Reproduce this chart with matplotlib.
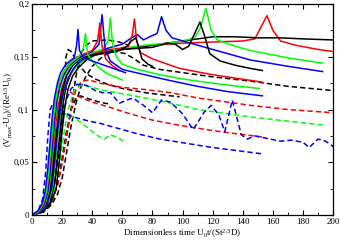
import matplotlib
matplotlib.use("Agg")
import matplotlib.pyplot as plt
from matplotlib.ticker import MultipleLocator, FuncFormatter

plt.rcParams['font.family'] = ['Liberation Serif', 'DejaVu Serif']
plt.rcParams['mathtext.fontset'] = 'custom'
plt.rcParams['mathtext.rm'] = 'Liberation Serif'
plt.rcParams['mathtext.it'] = 'Liberation Serif'

# solid curves (colour, x, y)
s_blue1_x = [0, 4, 7, 9, 10.5, 12, 13.5, 15, 17, 19, 22, 25, 28, 29.5, 30.5, 31.5, 34, 38, 44, 50, 56, 62]
s_blue1_y = [0, 0.004, 0.012, 0.025, 0.045, 0.07, 0.095, 0.112, 0.126, 0.135, 0.142, 0.146, 0.149, 0.16, 0.176, 0.156, 0.15, 0.147, 0.144, 0.141, 0.138, 0.135]
s_green1_x = [0, 4, 7, 9.5, 11, 12.5, 14, 15.5, 17.5, 20, 23, 27, 31, 34, 35.5, 37, 40, 45, 50, 55, 60]
s_green1_y = [0, 0.003, 0.01, 0.022, 0.04, 0.065, 0.09, 0.108, 0.123, 0.133, 0.14, 0.146, 0.15, 0.158, 0.172, 0.152, 0.146, 0.139, 0.134, 0.131, 0.128]
s_red1_x = [0, 5, 8, 10, 11.5, 13, 14.5, 16, 18, 21, 25, 30, 35, 40, 43.5, 45, 46.5, 49, 53, 58]
s_red1_y = [0, 0.004, 0.012, 0.025, 0.045, 0.07, 0.094, 0.112, 0.126, 0.136, 0.144, 0.15, 0.153, 0.156, 0.165, 0.182, 0.16, 0.148, 0.142, 0.137]
s_blue2_x = [0, 5, 8, 10.5, 12, 13.5, 15, 16.5, 18.5, 21, 25, 30, 35, 40, 44.5, 46.5, 48.5, 52, 60, 75, 90, 110, 130, 153]
s_blue2_y = [0, 0.003, 0.01, 0.022, 0.04, 0.065, 0.09, 0.108, 0.122, 0.133, 0.142, 0.148, 0.152, 0.155, 0.162, 0.19, 0.158, 0.146, 0.138, 0.133, 0.128, 0.122, 0.117, 0.113]
s_green2_x = [0, 5, 8.5, 11, 12.5, 14, 15.5, 17, 19, 22, 26, 31, 36, 42, 47, 50.5, 52, 53.5, 56, 60, 70, 85, 100, 125, 151]
s_green2_y = [0, 0.003, 0.01, 0.022, 0.042, 0.068, 0.092, 0.11, 0.124, 0.134, 0.142, 0.148, 0.152, 0.155, 0.157, 0.165, 0.187, 0.162, 0.15, 0.143, 0.138, 0.133, 0.129, 0.124, 0.12]
s_red2_x = [0, 5, 9, 11.5, 13, 14.5, 16, 18, 20, 23, 27, 32, 38, 45, 52, 58, 64, 66.5, 68, 69.5, 72, 80, 98, 120, 153]
s_red2_y = [0, 0.003, 0.01, 0.022, 0.04, 0.065, 0.09, 0.108, 0.122, 0.133, 0.142, 0.148, 0.152, 0.155, 0.157, 0.158, 0.16, 0.17, 0.186, 0.165, 0.154, 0.148, 0.139, 0.133, 0.126]
s_black1_x = [0, 5, 9, 12, 14, 16, 18, 20, 23, 27, 32, 38, 45, 52, 58, 63, 66, 69, 71, 73, 77, 80]
s_black1_y = [0, 0.003, 0.01, 0.022, 0.045, 0.075, 0.1, 0.118, 0.132, 0.142, 0.148, 0.151, 0.153, 0.154, 0.156, 0.16, 0.165, 0.168, 0.158, 0.148, 0.143, 0.141]
s_blue3_x = [0, 6, 10, 13, 15, 17, 19, 21, 24, 28, 33, 40, 50, 60, 66, 70, 74, 78, 83, 86, 89, 93, 110, 130, 145, 170, 193]
s_blue3_y = [0, 0.003, 0.01, 0.025, 0.05, 0.08, 0.102, 0.118, 0.13, 0.14, 0.147, 0.152, 0.158, 0.162, 0.168, 0.171, 0.166, 0.169, 0.172, 0.188, 0.175, 0.168, 0.161, 0.153, 0.147, 0.141, 0.136]
s_green3_x = [0, 6, 10, 13, 15, 17, 19, 21, 24, 28, 33, 40, 50, 60, 75, 90, 100, 108, 112, 115.5, 119, 123, 135, 145, 170, 193]
s_green3_y = [0, 0.003, 0.01, 0.022, 0.045, 0.075, 0.1, 0.117, 0.13, 0.139, 0.146, 0.151, 0.155, 0.158, 0.161, 0.163, 0.165, 0.168, 0.178, 0.196, 0.175, 0.166, 0.16, 0.156, 0.149, 0.144]
s_black2_x = [0, 7, 12, 16, 18, 20, 22, 24, 27, 31, 36, 42, 50, 60, 70, 80, 90, 95, 100, 104, 108, 111.5, 115, 118, 125, 135, 145, 153]
s_black2_y = [0, 0.003, 0.01, 0.025, 0.05, 0.08, 0.105, 0.12, 0.132, 0.14, 0.147, 0.152, 0.155, 0.157, 0.158, 0.159, 0.163, 0.162, 0.157, 0.16, 0.172, 0.183, 0.168, 0.153, 0.146, 0.142, 0.139, 0.137]
s_red3_x = [0, 6, 10, 13, 15, 17, 19, 21, 24, 28, 33, 40, 50, 60, 80, 100, 120, 140, 148, 152, 156, 160, 165, 175, 190, 200]
s_red3_y = [0, 0.003, 0.01, 0.022, 0.045, 0.075, 0.1, 0.116, 0.129, 0.139, 0.146, 0.151, 0.155, 0.158, 0.161, 0.163, 0.164, 0.165, 0.167, 0.178, 0.189, 0.175, 0.165, 0.161, 0.157, 0.155]
s_black3_x = [0, 7, 12, 15, 17, 19, 21, 23, 26, 30, 35, 40, 50, 60, 75, 90, 105, 120, 135, 150, 165, 180, 200]
s_black3_y = [0, 0.003, 0.012, 0.03, 0.055, 0.085, 0.11, 0.124, 0.135, 0.143, 0.148, 0.151, 0.154, 0.157, 0.16, 0.163, 0.166, 0.169, 0.169, 0.168, 0.168, 0.167, 0.166]

# dashed curves
d_black1_x = [0, 8, 13, 17, 20, 23, 25, 27, 29, 31, 33, 36, 40, 50, 58, 64]
d_black1_y = [0, 0.004, 0.012, 0.03, 0.05, 0.075, 0.092, 0.11, 0.13, 0.145, 0.155, 0.161, 0.165, 0.166, 0.164, 0.161]
d_black2_x = [0, 8, 12, 15, 18, 20, 21.5, 22.5, 24, 26, 28, 30, 33, 36, 42, 50, 60, 75, 98]
d_black2_y = [0, 0.004, 0.012, 0.03, 0.06, 0.09, 0.12, 0.15, 0.157, 0.155, 0.15, 0.145, 0.139, 0.134, 0.129, 0.124, 0.12, 0.116, 0.112]
d_black3_x = [0, 8, 13, 17, 20, 23, 26, 29, 32, 38, 45, 52]
d_black3_y = [0, 0.004, 0.012, 0.03, 0.055, 0.08, 0.1, 0.11, 0.113, 0.11, 0.107, 0.105]
d_black4_x = [0, 8, 13, 17, 20, 23, 26, 29, 32, 36, 40, 45, 50, 55, 62, 68, 74, 85, 100, 120, 145, 170, 200]
d_black4_y = [0, 0.003, 0.01, 0.02, 0.035, 0.06, 0.085, 0.105, 0.12, 0.132, 0.141, 0.148, 0.153, 0.155, 0.153, 0.148, 0.142, 0.138, 0.135, 0.131, 0.127, 0.122, 0.118]
d_red1_x = [0, 5, 8, 10, 12, 14, 16, 18, 21, 24, 27, 33, 40, 52, 65, 80, 98, 125, 153]
d_red1_y = [0, 0.003, 0.01, 0.025, 0.05, 0.08, 0.108, 0.124, 0.122, 0.118, 0.115, 0.111, 0.107, 0.102, 0.096, 0.09, 0.085, 0.079, 0.074]
d_red2_x = [0, 8, 13, 17, 20, 23, 26, 29, 33, 38, 45, 60, 75, 92, 110, 130, 145, 170, 200]
d_red2_y = [0, 0.004, 0.012, 0.028, 0.05, 0.078, 0.1, 0.118, 0.127, 0.128, 0.125, 0.121, 0.119, 0.116, 0.111, 0.107, 0.104, 0.1, 0.097]
d_green1_x = [0, 8, 12, 16, 19, 22, 25, 28, 32, 38, 45, 52, 60, 75, 92, 110, 130, 145, 170, 195]
d_green1_y = [0, 0.004, 0.012, 0.03, 0.055, 0.085, 0.105, 0.118, 0.123, 0.122, 0.119, 0.117, 0.115, 0.111, 0.106, 0.1, 0.096, 0.093, 0.089, 0.085]
d_green2_x = [0, 6, 10, 13, 15, 17, 19, 22, 26, 30, 35, 40, 45, 48, 52, 56, 62]
d_green2_y = [0, 0.003, 0.012, 0.03, 0.055, 0.08, 0.093, 0.096, 0.094, 0.09, 0.085, 0.079, 0.074, 0.072, 0.076, 0.074, 0.069]
d_blue1_x = [0, 6, 10, 14, 17, 20, 23, 26, 30, 36, 42, 47, 52, 58, 63, 67, 74, 80, 86, 92, 100, 107, 111, 114, 119, 124, 128, 133, 139, 143, 148, 155, 165, 172, 180, 184, 190, 195, 200]
d_blue1_y = [0, 0.004, 0.012, 0.03, 0.06, 0.09, 0.11, 0.12, 0.124, 0.123, 0.118, 0.116, 0.116, 0.106, 0.109, 0.111, 0.104, 0.097, 0.109, 0.107, 0.096, 0.081, 0.09, 0.097, 0.104, 0.095, 0.079, 0.109, 0.076, 0.072, 0.075, 0.073, 0.07, 0.071, 0.069, 0.064, 0.072, 0.07, 0.065]
d_blue2_x = [0, 4, 7, 9, 10.5, 12, 14, 17, 21, 25, 30, 38, 45, 55, 70, 85, 98, 120, 153]
d_blue2_y = [0, 0.004, 0.015, 0.04, 0.075, 0.1, 0.106, 0.103, 0.098, 0.094, 0.092, 0.089, 0.087, 0.083, 0.077, 0.072, 0.069, 0.064, 0.058]

solid = [
    ('red', s_red3_x, s_red3_y),
    ('black', s_black3_x, s_black3_y),
    ('lime', s_green3_x, s_green3_y),
    ('blue', s_blue3_x, s_blue3_y),
    ('black', s_black2_x, s_black2_y),
    ('red', s_red2_x, s_red2_y),
    ('black', s_black1_x, s_black1_y),
    ('lime', s_green2_x, s_green2_y),
    ('blue', s_blue2_x, s_blue2_y),
    ('red', s_red1_x, s_red1_y),
    ('lime', s_green1_x, s_green1_y),
    ('blue', s_blue1_x, s_blue1_y),
]
dashed = [
    ('black', d_black1_x, d_black1_y),
    ('black', d_black2_x, d_black2_y),
    ('black', d_black3_x, d_black3_y),
    ('black', d_black4_x, d_black4_y),
    ('red', d_red1_x, d_red1_y),
    ('red', d_red2_x, d_red2_y),
    ('lime', d_green1_x, d_green1_y),
    ('lime', d_green2_x, d_green2_y),
    ('blue', d_blue1_x, d_blue1_y),
    ('blue', d_blue2_x, d_blue2_y),
]

fig = plt.figure(figsize=(3.41, 2.40), dpi=100)
ax = fig.add_axes([0.094, 0.104, 0.883, 0.879])

for c, x, y in dashed:
    ax.plot(x, y, color=c, lw=1.1, ls=(0, (3.5, 2)))
for c, x, y in solid:
    ax.plot(x, y, color=c, lw=1.1)

ax.set_xlim(0, 200)
ax.set_ylim(0, 0.2)
ax.xaxis.set_major_locator(MultipleLocator(20))
ax.xaxis.set_minor_locator(MultipleLocator(10))
ax.yaxis.set_major_locator(MultipleLocator(0.05))
ax.yaxis.set_minor_locator(MultipleLocator(0.025))
ax.yaxis.set_major_formatter(FuncFormatter(lambda v, p: ('%g' % round(v, 3)).replace('.', ',')))
ax.tick_params(which='both', direction='in', top=True, right=True, labelsize=6.5, pad=2)
ax.tick_params(which='major', length=3.5, width=0.8)
ax.tick_params(which='minor', length=2, width=0.6)
for sp in ax.spines.values():
    sp.set_linewidth(0.9)

ax.set_xlabel(r'Dimensionless time U$_0$t/(St$^{2/3}$D)', fontsize=6.5, labelpad=1)
ax.set_ylabel(r'(V$_{\mathrm{max}}$-U$_0$)/(Re$^{1/3}$U$_0$)', fontsize=6.5)
ax.yaxis.set_label_coords(-0.055, 0.5)

fig.savefig('out.png', dpi=100)
